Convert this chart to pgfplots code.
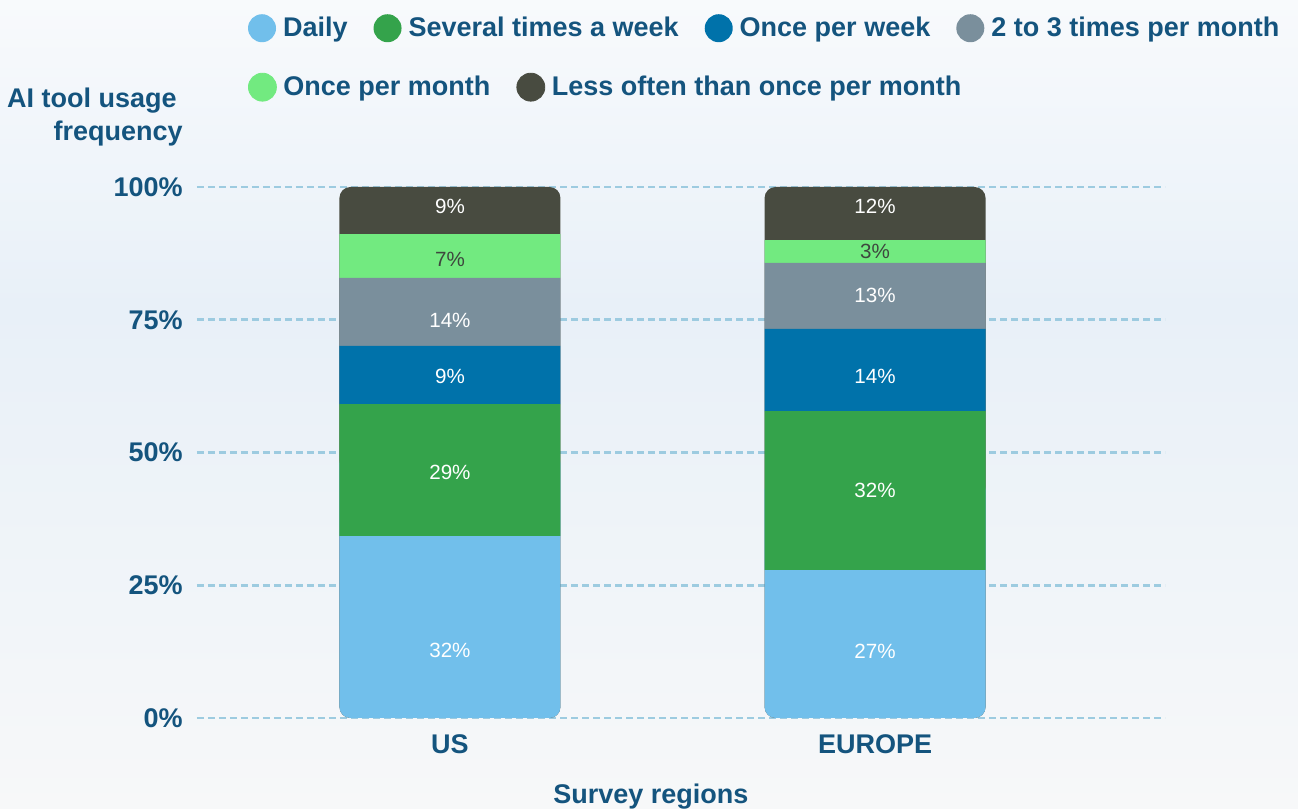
\documentclass[border=0pt]{standalone}
\usepackage{pgfplots}
\usepackage{pgfplotstable}
\pgfplotsset{compat=1.18}
\usepackage{fontspec}
\setmainfont{Liberation Sans}
\definecolor{txt}{HTML}{14547E}
\definecolor{dailyc}{HTML}{71BFEB}
\definecolor{sevc}{HTML}{34A34B}
\definecolor{weekc}{HTML}{0072AA}
\definecolor{twoc}{HTML}{7A8F9C}
\definecolor{monthc}{HTML}{72EA80}
\definecolor{lessc}{HTML}{484B40}
\definecolor{darklab}{HTML}{3E473E}
\definecolor{gridc}{HTML}{9DCBE0}
\definecolor{bgtop}{HTML}{F8FAFC}
\definecolor{bgmid}{HTML}{E8F0F8}
\definecolor{bgbot}{HTML}{F7F8F9}
\pgfdeclareverticalshading{bgshade}{100bp}{color(0bp)=(bgbot); color(25bp)=(bgbot); color(56bp)=(bgmid); color(75bp)=(bgtop); color(100bp)=(bgtop)}
\newcommand\lab{\bfseries\fontsize{13.5}{16.5}\selectfont}
\newcommand\barlab{\fontsize{10.3}{12}\selectfont}

% segment heights (percent of bar)
\pgfplotstableread{
x daily several week two month less
0 34.3 24.8 11.0 12.8 8.2 8.9
1 27.9 29.9 15.5 12.4 4.3 10.0
}\stackdata
% printed labels and their vertical positions
\pgfplotstableread{
x y val
0 12.8 32
0 46.3 29
0 64.4 9
0 74.8 14
0 96.4 9
1 12.6 27
1 42.9 32
1 64.4 14
1 79.5 13
1 96.4 12
}\whitelabels
\pgfplotstableread{
x y val
0 86.4 7
1 87.8 3
}\darklabels

\pgfplotsset{
  common/.style={
    scale only axis, width=484pt, height=265.5pt,
    at={(98.5pt,45.5pt)}, anchor=south west,
    xmin=-0.595, xmax=1.682, ymin=0, ymax=100, clip=false,
  },
  legrow/.style={
    legend columns=-1,
    legend style={at={#1}, anchor=west, draw=none, fill=none,
      inner sep=0pt, outer sep=0pt, font=\lab, text=txt,
      nodes={inner sep=0pt},
      /tikz/every even column/.append style={column sep=13pt}},
  },
  dot/.style={legend image code/.code={\fill[#1] (7pt,0pt) circle (7pt); \path[draw=none, fill=none] (0pt,0pt) -- (17.5pt,0pt);}},
  labplot/.style={forget plot, only marks, mark=*, mark size=0.01pt,
    mark options={draw opacity=0, fill opacity=0},
    point meta=explicit symbolic, nodes near coords={\pgfplotspointmeta\%},
    every node near coord/.append style={anchor=center, font=\barlab, text=#1, text opacity=1, opacity=1}},
}

\begin{document}
\begin{tikzpicture}
\shade[shading=bgshade] (0,0) rectangle (649pt,404.5pt);

% axis A: grid, ticks, labels, rounded underlays
\begin{axis}[common,
  axis line style={draw=none}, major tick length=0pt,
  ytick={0,25,50,75,100}, yticklabels={0\%,25\%,50\%,75\%,100\%},
  xtick={0,1}, xticklabels={US,EUROPE},
  ymajorgrids, grid style={gridc, line width=1.3pt, dash pattern=on 3.5pt off 2pt},
  tick label style={font=\lab, text=txt, inner sep=0pt},
  yticklabel style={xshift=-7pt},
  xticklabel style={yshift=-8pt},
  ylabel={AI tool usage\hspace*{3pt}\\frequency},
  every axis y label/.style={at={(rel axis cs:0,1)}, anchor=south east, align=right,
    xshift=-7pt, yshift=20pt, inner sep=0pt, font=\lab, text=txt},
  xlabel={Survey regions},
  every axis x label/.style={at={(rel axis cs:0.469,0)}, anchor=north,
    yshift=-33pt, inner sep=0pt, font=\lab, text=txt},
]
\addplot[ybar, bar width=110.5pt, bar shift=0pt, fill=lessc, draw=none, rounded corners=5.5pt]
  coordinates {(0,100) (1,100)};
\addplot[ybar, bar width=110.5pt, bar shift=0pt, fill=dailyc, draw=none, rounded corners=5.5pt]
  coordinates {(0,50) (1,45)};
\end{axis}

% axis B: stacked data
\begin{axis}[common, hide axis, ybar stacked, bar width=110.5pt,
  legrow={(rel axis cs:0.0527,1.299)}]
\addplot[fill=none, draw=none, dot=dailyc] table[x=x, y=daily]{\stackdata};
\addlegendentry{Daily}
\addplot[fill=sevc, draw=none, dot=sevc] table[x=x, y=several]{\stackdata};
\addlegendentry{Several times a week}
\addplot[fill=weekc, draw=none, dot=weekc] table[x=x, y=week]{\stackdata};
\addlegendentry{Once per week}
\addplot[fill=twoc, draw=none, dot=twoc] table[x=x, y=two]{\stackdata};
\addlegendentry{2 to 3 times per month}
\addplot[fill=monthc, draw=none, forget plot] table[x=x, y=month]{\stackdata};
\addplot[fill=none, draw=none, forget plot] table[x=x, y=less]{\stackdata};
\end{axis}

% axis C: value labels and second legend row
\begin{axis}[common, hide axis, legrow={(rel axis cs:0.0527,1.188)}]
\addplot[labplot=white] table[x=x, y=y, meta=val]{\whitelabels};
\addplot[labplot=darklab] table[x=x, y=y, meta=val]{\darklabels};
\addlegendimage{dot=monthc}
\addlegendentry{Once per month}
\addlegendimage{dot=lessc}
\addlegendentry{Less often than once per month}
\end{axis}
\end{tikzpicture}
\end{document}
